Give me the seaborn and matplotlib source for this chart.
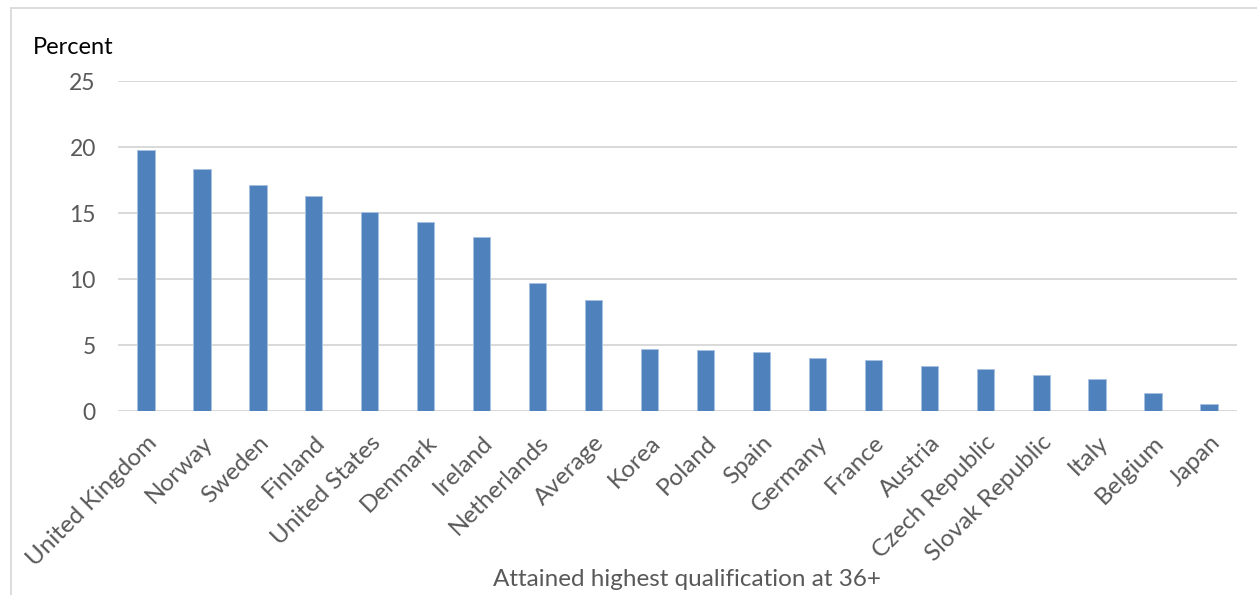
import matplotlib
matplotlib.use("Agg")
import matplotlib.pyplot as plt
import matplotlib.patches as mpatches
import seaborn as sns
import pandas as pd

countries = ["United Kingdom", "Norway", "Sweden", "Finland", "United States",
             "Denmark", "Ireland", "Netherlands", "Average", "Korea", "Poland",
             "Spain", "Germany", "France", "Austria", "Czech Republic",
             "Slovak Republic", "Italy", "Belgium", "Japan"]
percent = [19.8, 18.3, 17.1, 16.3, 15.1, 14.3, 13.2, 9.7, 8.4, 4.7, 4.6,
           4.5, 4.0, 3.9, 3.4, 3.2, 2.7, 2.4, 1.4, 0.5]
y_ticks = [0, 5, 10, 15, 20, 25]
y_title = "Percent"
x_title = "Attained highest qualification at 36+"

df = pd.DataFrame({"country": countries, "percent": percent})

sns.set_theme(style="white")
plt.rcParams["font.family"] = ["Lato", "DejaVu Sans"]

W, H = 1257, 595
fig = plt.figure(figsize=(W / 100, H / 100), dpi=100)
ax = fig.add_axes([118 / W, 1 - 411 / H, (1237 - 118) / W, (411 - 81) / H])

grey_text = "#595959"
grid_col = "#d9d9d9"
bar_col = "#4f81bd"

sns.barplot(data=df, x="country", y="percent", color=bar_col, width=0.31,
            saturation=1, edgecolor="#a9c1e0", linewidth=0.7, ax=ax, zorder=3)

ax.set_xlim(-0.5, len(countries) - 0.5)
ax.set_ylim(0, 25)
ax.set_yticks(y_ticks)
ax.set_yticklabels([str(t) for t in y_ticks])
ax.yaxis.grid(True, color=grid_col, linewidth=1.4, zorder=0)
ax.set_axisbelow(True)
for s in ax.spines.values():
    s.set_visible(False)

ax.tick_params(axis="y", length=0, pad=16, labelsize=16.5, labelcolor=grey_text)
ax.tick_params(axis="x", length=0, pad=15, labelsize=17.5, labelcolor=grey_text)
for lbl in ax.get_xticklabels():
    lbl.set_rotation(45)
    lbl.set_ha("right")
    lbl.set_va("top")
    lbl.set_rotation_mode("anchor")

ax.set_xlabel("")
ax.set_ylabel("")

fig.text(33 / W, 1 - 47 / H, y_title, fontsize=17, color="black",
         ha="left", va="center")
fig.text(687 / W, 1 - 580 / H, x_title, fontsize=17.5, color=grey_text,
         ha="center", va="center")

# light frame around the chart area
frame = mpatches.Rectangle((11 / W, -0.05), 1.2, 1 - 8 / H + 0.05,
                           transform=fig.transFigure, fill=False,
                           edgecolor=grid_col, linewidth=1.3, clip_on=False)
fig.patches.append(frame)

fig.savefig("out.png", dpi=100, facecolor="white")
